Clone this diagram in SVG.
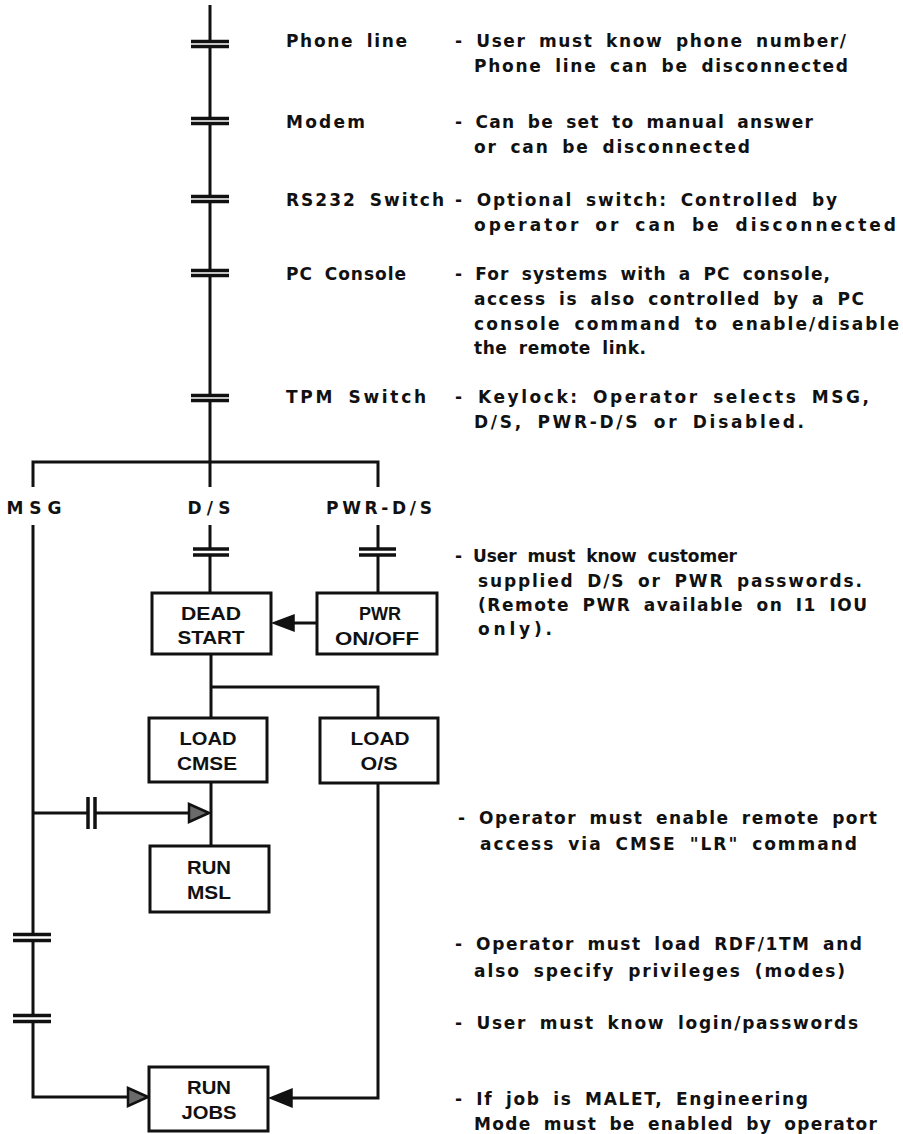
<svg xmlns="http://www.w3.org/2000/svg" width="903" height="1134" viewBox="0 0 903 1134">
<style>
.ln{stroke:#111;stroke-width:3;fill:none;stroke-linecap:butt}
.bar{stroke:#111;stroke-width:3.5;fill:none}
.box{fill:#fff;stroke:#111;stroke-width:3}
.ah{fill:#111;stroke:#111;stroke-width:1.5;stroke-linejoin:miter}
.ah2{fill:#6a6a6a;stroke:#111;stroke-width:2.5;stroke-linejoin:miter}
.t{font-family:"DejaVu Sans","Liberation Sans",Arial,sans-serif;font-weight:bold;font-size:17px;word-spacing:5px;fill:#111}
.bt{font-family:"Liberation Sans",Arial,Helvetica,sans-serif;font-weight:bold;font-size:19px;fill:#111;text-anchor:middle}
.br{font-family:"DejaVu Sans","Liberation Sans",Arial,sans-serif;font-weight:bold;font-size:17px;fill:#111;text-anchor:middle}
</style>
<rect width="903" height="1134" fill="#fff"/>
<g id="connectors">
  <path class="ln" d="M210,5V41M210,46V118M210,124V196M210,202V270M210,276V395M210,401V462"/>
  <path class="bar" d="M191,41.5H229M191,46.5H229M191,118.5H229M191,123.5H229M191,196.5H229M191,201.5H229M191,270.5H229M191,275.5H229M191,395.5H229M191,400.5H229"/>
  <path class="ln" d="M33,462H378M33,460.5V487M210,462V487M378,460.5V487"/>
  <path class="ln" d="M210,525V548M210,556V593M378,525V548M378,556V593"/>
  <path class="bar" d="M193,549H229M193,555H229M359,549H396M359,555H396"/>
  <path class="ln" d="M317,623H292"/>
  <polygon class="ah" points="273,623 294,615 294,631"/>
  <path class="ln" d="M211,654V718M211,687H378M378,685.5V718"/>
  <path class="ln" d="M211,782V846"/>
  <path class="ln" d="M33,525V934M33,941V1015M33,1022V1097H128"/>
  <path class="bar" d="M13,934.5H51M13,940.5H51M13,1015.5H51M13,1021.5H51"/>
  <polygon class="ah2" points="148,1097 128,1088 128,1106"/>
  <path class="ln" d="M33,813H87M96,813H190"/>
  <path class="bar" d="M88,797V829M95,797V829"/>
  <polygon class="ah2" points="209,813 189,804 189,822"/>
  <path class="ln" d="M378,783V1098H292"/>
  <polygon class="ah" points="270,1098 292,1089 292,1107"/>
</g>
<g id="label-msg"><text class="br" x="34" y="514" textLength="55" lengthAdjust="spacing">MSG</text></g>
<g id="label-ds"><text class="br" x="209" y="514" textLength="43" lengthAdjust="spacing">D/S</text></g>
<g id="label-pwrds"><text class="br" x="379" y="514" textLength="106" lengthAdjust="spacing">PWR-D/S</text></g>
<g id="node-deadstart">
  <rect class="box" x="152" y="593" width="119" height="61"/>
  <text class="bt" x="211" y="620" textLength="60" lengthAdjust="spacingAndGlyphs">DEAD</text>
  <text class="bt" x="211" y="644" textLength="67" lengthAdjust="spacingAndGlyphs">START</text>
</g>
<g id="node-pwr">
  <rect class="box" x="317" y="593" width="120" height="61"/>
  <text class="bt" x="380" y="620" textLength="42" lengthAdjust="spacingAndGlyphs">PWR</text>
  <text class="bt" x="377" y="645" textLength="84" lengthAdjust="spacingAndGlyphs">ON/OFF</text>
</g>
<g id="node-loadcmse">
  <rect class="box" x="149" y="718" width="118" height="64"/>
  <text class="bt" x="208" y="745" textLength="57" lengthAdjust="spacingAndGlyphs">LOAD</text>
  <text class="bt" x="207" y="770" textLength="60" lengthAdjust="spacingAndGlyphs">CMSE</text>
</g>
<g id="node-loados">
  <rect class="box" x="320" y="718" width="118" height="65"/>
  <text class="bt" x="380" y="745" textLength="59" lengthAdjust="spacingAndGlyphs">LOAD</text>
  <text class="bt" x="379" y="770" textLength="37" lengthAdjust="spacingAndGlyphs">O/S</text>
</g>
<g id="node-runmsl">
  <rect class="box" x="150" y="846" width="119" height="66"/>
  <text class="bt" x="209" y="874" textLength="44" lengthAdjust="spacingAndGlyphs">RUN</text>
  <text class="bt" x="209" y="899" textLength="44" lengthAdjust="spacingAndGlyphs">MSL</text>
</g>
<g id="node-runjobs">
  <rect class="box" x="149" y="1067" width="119" height="64"/>
  <text class="bt" x="209" y="1094" textLength="44" lengthAdjust="spacingAndGlyphs">RUN</text>
  <text class="bt" x="209" y="1119" textLength="55" lengthAdjust="spacingAndGlyphs">JOBS</text>
</g>
<g id="notes">
  <text class="t" x="286" y="47" textLength="121" lengthAdjust="spacing">Phone line</text>
  <text class="t" x="455" y="47" textLength="391" lengthAdjust="spacing">- User must know phone number/</text>
  <text class="t" x="474" y="72" textLength="374" lengthAdjust="spacing">Phone line can be disconnected</text>
  <text class="t" x="286" y="128" textLength="79" lengthAdjust="spacing">Modem</text>
  <text class="t" x="455" y="128" textLength="358" lengthAdjust="spacing">- Can be set to manual answer</text>
  <text class="t" x="474" y="153" textLength="276" lengthAdjust="spacing">or can be disconnected</text>
  <text class="t" x="286" y="206" textLength="158" lengthAdjust="spacing">RS232 Switch</text>
  <text class="t" x="455" y="206" textLength="382" lengthAdjust="spacing">- Optional switch: Controlled by</text>
  <text class="t" x="474" y="231" textLength="422" lengthAdjust="spacing">operator or can be disconnected</text>
  <text class="t" x="286" y="280" textLength="120" lengthAdjust="spacing">PC Console</text>
  <text class="t" x="455" y="280" textLength="375" lengthAdjust="spacing">- For systems with a PC console,</text>
  <text class="t" x="474" y="305" textLength="390" lengthAdjust="spacing">access is also controlled by a PC</text>
  <text class="t" x="474" y="330" textLength="425" lengthAdjust="spacing">console command to enable/disable</text>
  <text class="t" x="474" y="354" textLength="172" lengthAdjust="spacing">the remote link.</text>
  <text class="t" x="286" y="403" textLength="140" lengthAdjust="spacing">TPM Switch</text>
  <text class="t" x="455" y="403" textLength="414" lengthAdjust="spacing">- Keylock: Operator selects MSG,</text>
  <text class="t" x="474" y="428" textLength="330" lengthAdjust="spacing">D/S, PWR-D/S or Disabled.</text>
  <text class="t" x="455" y="562" textLength="282" lengthAdjust="spacing">- User must know customer</text>
  <text class="t" x="478" y="587" textLength="384" lengthAdjust="spacing">supplied D/S or PWR passwords.</text>
  <text class="t" x="478" y="611" textLength="389" lengthAdjust="spacing">(Remote PWR available on I1 IOU</text>
  <text class="t" x="478" y="635" textLength="74" lengthAdjust="spacing">only).</text>
  <text class="t" x="458" y="824" textLength="419" lengthAdjust="spacing">- Operator must enable remote port</text>
  <text class="t" x="480" y="850" textLength="377" lengthAdjust="spacing">access via CMSE "LR" command</text>
  <text class="t" x="455" y="950" textLength="407" lengthAdjust="spacing">- Operator must load RDF/1TM and</text>
  <text class="t" x="474" y="977" textLength="371" lengthAdjust="spacing">also specify privileges (modes)</text>
  <text class="t" x="455" y="1029" textLength="403" lengthAdjust="spacing">- User must know login/passwords</text>
  <text class="t" x="455" y="1105" textLength="353" lengthAdjust="spacing">- If job is MALET, Engineering</text>
  <text class="t" x="474" y="1130" textLength="403" lengthAdjust="spacing">Mode must be enabled by operator</text>
</g>
</svg>
